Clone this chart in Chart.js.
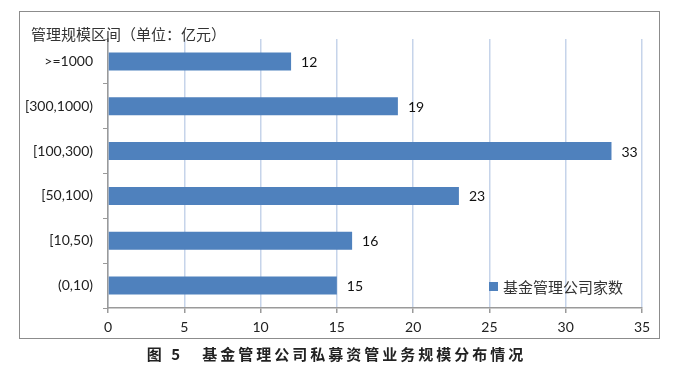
<!DOCTYPE html>
<html>
<head>
<meta charset="utf-8">
<script src="https://cdn.jsdelivr.net/npm/chart.js@4/dist/chart.umd.min.js"></script>
<style>
  html, body { margin: 0; padding: 0; background: #fff; }
  #wrap { position: relative; width: 673px; height: 368px; }
  #caption {
    position: absolute; left: 0; top: 343px; width: 673px; text-align: center;
    font-family: "Noto Sans CJK SC", sans-serif; font-weight: 600; font-size: 15px;
    letter-spacing: 3px; color: #222;
  }
</style>
</head>
<body>
<div id="wrap">
  <canvas id="scaleChart" width="673" height="368"></canvas>
  <div id="caption">图 5&nbsp;&nbsp;&nbsp;基金管理公司私募资管业务规模分布情况</div>
</div>
<script>
// 管理规模区间 - 基金管理公司家数
const categories = ['>=1000', '[300,1000)', '[100,300)', '[50,100)', '[10,50)', '(0,10)'];
const companyCounts = [12, 19, 33, 23, 16, 15];
const seriesName = '基金管理公司家数';
const axisTitle = '管理规模区间（单位：亿元）';
const xTicks = [0, 5, 10, 15, 20, 25, 30, 35];

const barColor = '#4F81BD';
const latinFont = 'Lato, "Noto Sans", sans-serif';
const cjkFont = '"Noto Sans CJK SC", sans-serif';

// 外框、标题、数据标签和图例
const decorPlugin = {
    id: 'decor',
    afterDraw(chart) {
        const ctx = chart.ctx;
        ctx.save();

        // 外框
        ctx.strokeStyle = '#8C8C8C';
        ctx.lineWidth = 1;
        ctx.strokeRect(19.5, 11.5, 640, 327);

        // 左上角标题
        ctx.fillStyle = '#333';
        ctx.font = '15px ' + cjkFont;
        ctx.textAlign = 'left';
        ctx.textBaseline = 'middle';
        ctx.fillText(axisTitle, 31, 34);

        // 数据标签
        const meta = chart.getDatasetMeta(0);
        ctx.font = '14px ' + latinFont;
        ctx.fillStyle = '#111';
        meta.data.forEach((bar, i) => {
            ctx.fillText(String(companyCounts[i]), bar.x + 10, bar.y + 1);
        });

        // 图例（放在图内右下）
        const ds = chart.data.datasets[0];
        ctx.fillStyle = ds.backgroundColor;
        ctx.fillRect(489, 282, 9, 9);
        ctx.fillStyle = '#333';
        ctx.font = '15px ' + cjkFont;
        ctx.fillText(ds.label, 503, 287);

        ctx.restore();
    }
};

new Chart(document.getElementById('scaleChart'), {
    type: 'bar',
    data: {
        labels: categories,
        datasets: [{
            label: seriesName,
            data: companyCounts,
            backgroundColor: barColor,
            borderWidth: 0,
            categoryPercentage: 1,
            barPercentage: 0.4
        }]
    },
    options: {
        indexAxis: 'y',
        responsive: false,
        animation: false,
        layout: {
            padding: { left: 0, right: 31, top: 39, bottom: 30 }
        },
        plugins: {
            legend: { display: false },
            tooltip: { enabled: false }
        },
        scales: {
            x: {
                min: 0,
                max: 35,
                afterBuildTicks: axis => {
                    axis.ticks = xTicks.map(v => ({ value: v }));
                },
                afterFit: axis => { axis.height = 30; },
                grid: {
                    color: '#C6D4EA',
                    tickColor: '#9A9A9A',
                    tickLength: 5,
                    lineWidth: 1.5
                },
                border: { color: '#9A9A9A', width: 1.5 },
                ticks: {
                    padding: 6,
                    color: '#222',
                    font: { family: latinFont, size: 14 }
                }
            },
            y: {
                afterFit: axis => { axis.width = 108; },
                grid: {
                    drawOnChartArea: false,
                    offset: true,
                    tickColor: '#9A9A9A',
                    tickLength: 5
                },
                border: { color: '#9A9A9A', width: 1.5 },
                ticks: {
                    padding: 10,
                    color: '#222',
                    font: { family: latinFont, size: 14 }
                }
            }
        }
    },
    plugins: [decorPlugin]
});
</script>
</body>
</html>
